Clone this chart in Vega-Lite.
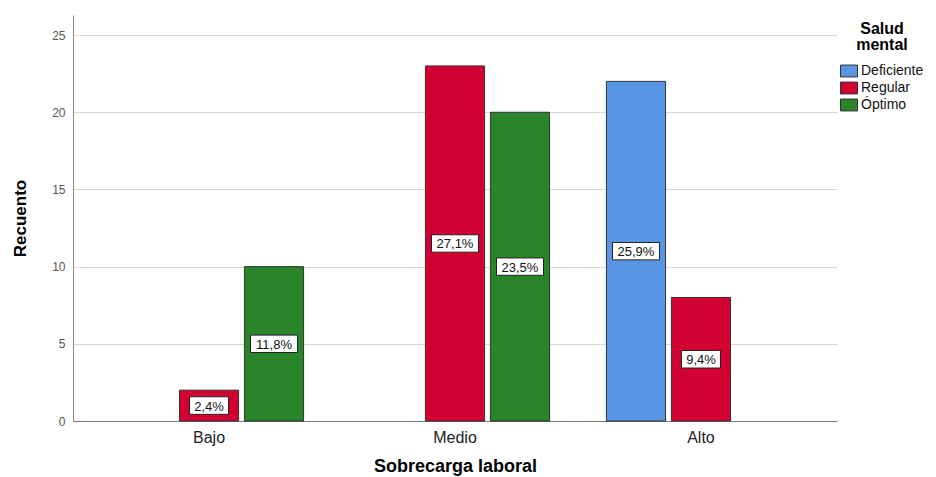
{
  "$schema": "https://vega.github.io/schema/vega-lite/v6.json",
  "autosize": "none",
  "width": 764,
  "height": 406,
  "padding": {"left": 73, "top": 15, "right": 99, "bottom": 56},
  "background": "white",
  "config": {
    "font": "Liberation Sans",
    "view": {"stroke": null}
  },
  "data": {
    "values": [
      {"sobrecarga": "Bajo", "salud": "Regular", "count": 2, "pct": "2,4%"},
      {"sobrecarga": "Bajo", "salud": "Óptimo", "count": 10, "pct": "11,8%"},
      {"sobrecarga": "Medio", "salud": "Regular", "count": 23, "pct": "27,1%"},
      {"sobrecarga": "Medio", "salud": "Óptimo", "count": 20, "pct": "23,5%"},
      {"sobrecarga": "Alto", "salud": "Deficiente", "count": 22, "pct": "25,9%"},
      {"sobrecarga": "Alto", "salud": "Regular", "count": 8, "pct": "9,4%"}
    ]
  },
  "transform": [{"calculate": "datum.count / 2", "as": "mid"}],
  "encoding": {
    "x": {
      "field": "sobrecarga",
      "type": "nominal",
      "sort": ["Bajo", "Medio", "Alto"],
      "scale": {"paddingInner": 0, "paddingOuter": 0.053},
      "axis": {
        "title": "Sobrecarga laboral",
        "titleFontSize": 18,
        "titleFontWeight": "bold",
        "titleColor": "#000",
        "titlePadding": 12,
        "labelFontSize": 16,
        "labelColor": "#222",
        "labelAngle": 0,
        "labelPadding": 8,
        "ticks": false,
        "domainColor": "#777",
        "grid": false
      }
    },
    "xOffset": {
      "field": "salud",
      "type": "nominal",
      "scale": {"domain": ["Deficiente", "Regular", "Óptimo"], "paddingInner": 0.09, "paddingOuter": 0.4375}
    }
  },
  "layer": [
    {
      "mark": {"type": "bar", "stroke": "#333", "strokeWidth": 1},
      "encoding": {
        "y": {
          "field": "count",
          "type": "quantitative",
          "scale": {"domain": [0, 26.3], "nice": false},
          "axis": {
            "title": "Recuento",
            "titleFontSize": 17,
            "titleFontWeight": "bold",
            "titleColor": "#000",
            "titlePadding": 22,
            "values": [0, 5, 10, 15, 20, 25],
            "labelFontSize": 12,
            "labelColor": "#555",
            "labelPadding": 8,
            "ticks": false,
            "domainColor": "#888",
            "gridColor": "#d6d6d6"
          }
        },
        "color": {
          "field": "salud",
          "type": "nominal",
          "scale": {"domain": ["Deficiente", "Regular", "Óptimo"], "range": ["#5895E3", "#D30032", "#2A842A"]},
          "legend": {
            "title": ["Salud", "mental"],
            "orient": "none",
            "legendX": 767,
            "legendY": 6,
            "titleFontSize": 16,
            "titleFontWeight": "bold",
            "titleColor": "#000",
            "titleAnchor": "middle",
            "titleLineHeight": 16,
            "titlePadding": 9,
            "labelFontSize": 14,
            "labelColor": "#111",
            "labelOffset": 3,
            "symbolType": "M-1,-0.7H1V0.7H-1Z",
            "symbolSize": 289,
            "symbolStrokeColor": "#333",
            "symbolStrokeWidth": 1,
            "symbolOpacity": 1,
            "rowPadding": 0
          }
        }
      }
    },
    {
      "mark": {"type": "point", "filled": true, "fill": "white", "stroke": "#222", "strokeWidth": 1, "opacity": 1},
      "encoding": {
        "y": {"field": "mid", "type": "quantitative"},
        "shape": {
          "condition": {"test": "length(datum.pct) < 5", "value": "M-1,-0.45H1V0.45H-1Z"},
          "value": "M-1,-0.37H1V0.37H-1Z"
        },
        "size": {
          "condition": {"test": "length(datum.pct) < 5", "value": 1521},
          "value": 2209
        }
      }
    },
    {
      "mark": {"type": "text", "fontSize": 13, "color": "#111", "baseline": "middle", "align": "center", "dy": 1},
      "encoding": {
        "y": {"field": "mid", "type": "quantitative"},
        "text": {"field": "pct"}
      }
    }
  ]
}
